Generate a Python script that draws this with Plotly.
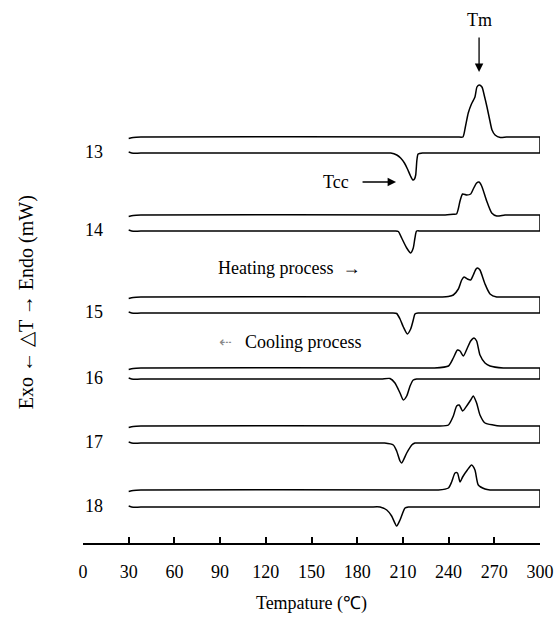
import plotly.graph_objects as go

# DSC traces for samples 13-18: heating scan (upper line, endo up) and
# cooling scan (lower line, exo down), each stacked on its own baseline.
samples = ["13", "14", "15", "16", "17", "18"]
heat_base = [406, 328, 246, 175, 117, 53]
cool_base = [390, 312, 230, 164, 100, 36]

# start-of-scan transient (T in degC, signal offset)
start_T = [30, 33, 38]
start_heat = [-1.5, -0.5, 0.0]
start_cool = [1.0, -0.3, 0.0]

heat13_T = [240, 246, 249.4, 251.0, 252.9, 255.0, 257.3, 258.6, 260.0, 261.9, 263.5, 265.2, 267.0, 268.5, 270.5, 274.0, 278.0, 285]
heat13_q = [0, 0, 0, 10, 24, 33, 40, 50, 52, 50, 41, 30, 17, 7, 2, -0.5, 0, 0]
cool13_T = [195, 202, 206, 208.5, 211, 213, 215, 216.6, 217.6, 218.4, 219.2, 220, 223, 228]
cool13_q = [0, 0, -2, -5, -10, -16, -23, -27, -26, -22, -7, -1, 0, 0]

heat14_T = [228, 236, 243, 245.2, 246.5, 247.5, 249.2, 251.9, 254.5, 256.2, 258.4, 260.0, 261.7, 265.0, 268.3, 271.6, 277, 284]
heat14_q = [0, 0, 0.8, 1, 7, 14, 21, 20, 21, 26, 32, 33, 29, 14, 2, -1, 0, 0]
cool14_T = [198, 205, 207, 209.2, 212.5, 215.1, 216.8, 217.9, 219, 222]
cool14_q = [0, 0, -0.5, -7, -17, -22, -17, -7, 0, 0]

heat15_T = [228, 236, 239.8, 243.1, 246.4, 248.6, 250.1, 252.3, 254.5, 256.2, 258.0, 259.1, 260.6, 263.9, 267.2, 271.6, 276, 283]
heat15_q = [0, 0, 0.5, 2, 8, 17, 20, 18, 17, 22, 28, 29, 27, 13, 3, 0, 0, 0]
cool15_T = [196, 203, 205.9, 208.1, 210.3, 212.9, 215.1, 216.8, 217.9, 220, 226]
cool15_q = [0, 0, -0.5, -6, -14, -21, -16, -7, -1, 0, 0]

heat16_T = [222, 230, 239.9, 243.1, 245.8, 247.5, 249.7, 252.3, 254.5, 256.7, 258.4, 260.6, 263.9, 267.2, 275.9, 283]
heat16_q = [0, 0, 2, 10, 18, 17, 12, 20, 27, 30, 27, 13, 5, 2, 0, 0]
cool16_T = [189, 196, 201.5, 204.8, 208.1, 210.3, 212.5, 214.7, 216.8, 219, 225]
cool16_q = [0, 0, 0.5, -4, -14, -21, -17, -7, -1, 0, 0]

heat17_T = [225, 233.3, 239.9, 243.1, 245.3, 247.0, 249.2, 252.3, 254.5, 256.2, 258.4, 260.6, 263.9, 269.3, 274, 281]
heat17_q = [0, 0, 1, 10, 20, 21, 15, 21, 26, 30, 23, 11, 3, 1, 0, 0]
cool17_T = [191, 198, 203.7, 205.9, 208.1, 209.2, 212.5, 215.8, 217.9, 220]
cool17_q = [0, 0, -2, -8, -18, -20, -10, -2, 0, 0]

heat18_T = [225, 233.3, 239.9, 242.0, 244.2, 245.8, 247.5, 249.2, 252.3, 255.1, 257.3, 259.5, 263.9, 267.2, 274]
heat18_q = [0, 0, 2, 8, 17, 17, 8, 13, 20, 25, 20, 5, 1, 0, 0]
cool18_T = [188, 195, 199.4, 202.6, 205.9, 208.1, 211.4, 213.6, 216]
cool18_q = [0, 0, -3, -9, -19, -13, -1, 0, 0]

heat_T = [heat13_T, heat14_T, heat15_T, heat16_T, heat17_T, heat18_T]
heat_q = [heat13_q, heat14_q, heat15_q, heat16_q, heat17_q, heat18_q]
cool_T = [cool13_T, cool14_T, cool15_T, cool16_T, cool17_T, cool18_T]
cool_q = [cool13_q, cool14_q, cool15_q, cool16_q, cool17_q, cool18_q]

T_end = 300
x_ticks = list(range(0, 301, 30))

SERIF = "Liberation Serif, Times New Roman, serif"
line_style = dict(color="black", width=1.5, shape="spline", smoothing=0.6)

fig = go.Figure()
for i, name in enumerate(samples):
    hb, cb = heat_base[i], cool_base[i]
    hx = start_T + heat_T[i] + [T_end]
    hy = [hb + v for v in start_heat + heat_q[i] + [0]]
    cx = start_T + cool_T[i] + [T_end]
    cy = [cb + v for v in start_cool + cool_q[i] + [0]]
    fig.add_trace(go.Scatter(x=hx, y=hy, mode="lines", line=line_style,
                             hoverinfo="skip", showlegend=False))
    fig.add_trace(go.Scatter(x=cx, y=cy, mode="lines", line=line_style,
                             hoverinfo="skip", showlegend=False))
    # scan turnaround at the end temperature joins heating and cooling lines
    fig.add_trace(go.Scatter(x=[T_end, T_end], y=[hy[-1], cy[-1]], mode="lines",
                             line=dict(color="black", width=1.5),
                             hoverinfo="skip", showlegend=False))

annotations = []
for i, name in enumerate(samples):
    annotations.append(dict(x=7.5, y=cool_base[i] + 1, xref="x", yref="y", text=name,
                            showarrow=False, font=dict(family=SERIF, size=18, color="black")))

# melting peak marker
annotations.append(dict(x=260, y=471, xref="x", yref="y", text="Tm", showarrow=True,
                        ax=0, ay=-52, arrowhead=2, arrowsize=1.3, arrowwidth=1.3,
                        arrowcolor="black", startstandoff=6,
                        font=dict(family=SERIF, size=18, color="black")))
# crystallization peak marker
annotations.append(dict(x=205.5, y=361, xref="x", yref="y", text="Tcc", showarrow=True,
                        ax=-60, ay=0, arrowhead=2, arrowsize=1.3, arrowwidth=1.3,
                        arrowcolor="black", startstandoff=12,
                        font=dict(family=SERIF, size=18, color="black")))
annotations.append(dict(x=135.5, y=275, xref="x", yref="y", text="Heating process  \u2192",
                        showarrow=False, font=dict(family=SERIF, size=18, color="black")))
annotations.append(dict(x=93.5, y=201, xref="x", yref="y", text="\u21e0",
                        showarrow=False, font=dict(family="DejaVu Sans", size=15, color="#888888")))
annotations.append(dict(x=145, y=201, xref="x", yref="y", text="Cooling process",
                        showarrow=False, font=dict(family=SERIF, size=18, color="black")))
# vertical axis title
annotations.append(dict(x=-0.123, y=0.443, xref="paper", yref="paper",
                        text="Exo \u2190 \u25b3T \u2192 Endo (mW)", textangle=-90,
                        showarrow=False, xanchor="center", yanchor="middle",
                        font=dict(family=SERIF, size=20, color="black")))

fig.update_layout(
    width=556, height=618,
    margin=dict(l=83, r=16, t=0, b=75),
    paper_bgcolor="white", plot_bgcolor="white",
    annotations=annotations,
    xaxis=dict(range=[0, 300], tickvals=x_ticks, ticks="inside", ticklen=6,
               tickwidth=2, tickcolor="black", showline=True, linewidth=2,
               linecolor="black", showgrid=False, zeroline=False,
               ticklabelstandoff=11,
               tickfont=dict(family=SERIF, size=18, color="black"),
               title=dict(text="Tempature (\u2103)", standoff=16,
                          font=dict(family=SERIF, size=18, color="black"))),
    yaxis=dict(range=[0, 543], visible=False, fixedrange=True),
)

fig.write_html("out.html")
